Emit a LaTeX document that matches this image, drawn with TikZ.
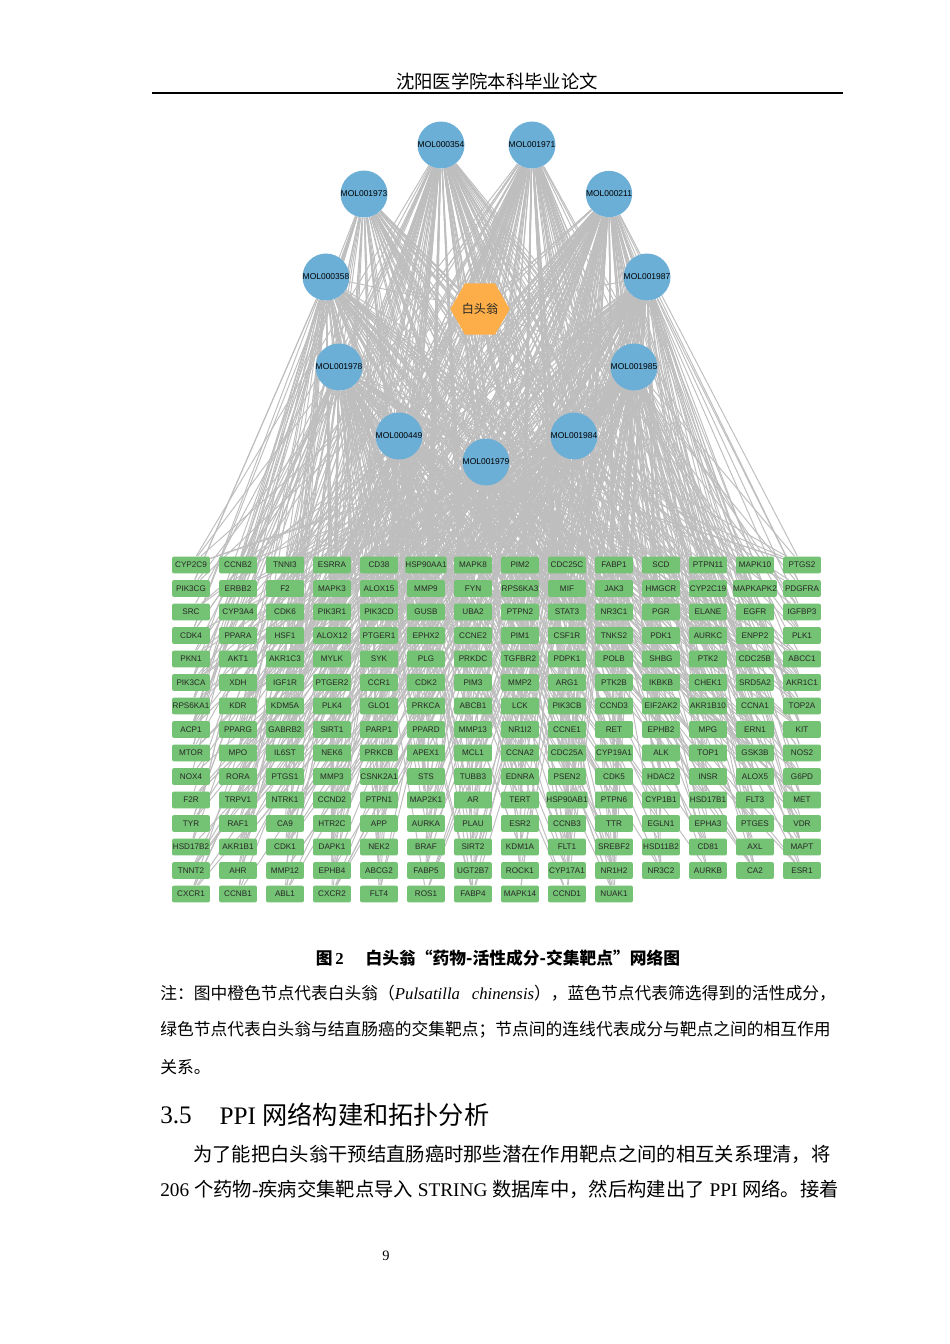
\documentclass[tikz,border=0pt]{standalone}
\usepackage{fontspec}
\setmainfont{Liberation Serif}
\newfontfamily\cjk{Noto Sans CJK SC}
\newfontfamily\netfont{Liberation Sans}
\usepackage{tikz}
\usetikzlibrary{shapes.geometric,positioning,backgrounds}
\definecolor{molblue}{RGB}{107,174,214}
\definecolor{targetgreen}{RGB}{116,194,116}
\definecolor{herborange}{RGB}{253,174,72}
\definecolor{edgegray}{RGB}{190,190,190}
\definecolor{labelgray}{RGB}{40,40,40}
\newcommand{\zh}[1]{{\cjk #1}}
\tikzset{
  mol/.style    ={circle, fill=molblue, minimum size=25pt, inner sep=0pt,
                  font=\netfont\fontsize{5.3}{6}\selectfont, text=black},
  target/.style ={rectangle, rounded corners=1.3pt, fill=targetgreen, minimum width=23.8pt,
                  minimum height=10.6pt, inner sep=0pt, text=labelgray,
                  font=\netfont\fontsize{5.1}{6}\selectfont},
  herb/.style   ={regular polygon, regular polygon sides=6, fill=herborange, minimum size=26.8pt,
                  inner sep=0pt, font=\cjk\fontsize{7.6}{8}\selectfont, text=labelgray},
  netedge/.style={draw=edgegray, line width=0.6pt},
  txt/.style    ={inner sep=0pt, anchor=west, font=\fontsize{10.5}{12}\selectfont},
  body/.style   ={inner sep=0pt, anchor=west, font=\fontsize{12.1}{14}\selectfont},
  sect/.style   ={inner sep=0pt, anchor=west, font=\fontsize{15.8}{18}\selectfont}
}
\begin{document}
\begin{tikzpicture}[x=0.6266pt, y=-0.6266pt]
\useasboundingbox (0,0) rectangle (950,1344);

\node[font=\cjk\fontsize{11.5}{13}\selectfont] (hdr) at (497,81) {沈阳医学院本科毕业论文};
\draw[line width=0.8pt] (152,93) -- (843,93);

\node[herb] (herb) at (480,309) {白头翁};
\foreach \n/\x/\y [count=\m] in {MOL000354/441/145, MOL001971/532/145, MOL001973/364/194,
    MOL000211/609/194, MOL000358/326/277, MOL001987/647/277, MOL001978/339/367,
    MOL001985/634/367, MOL000449/399/436, MOL001984/574/436, MOL001979/486/462}
  \node[mol] (m\m) at (\x,\y) {\n};

\foreach \g [count=\i from 0] in {
    CYP2C9,CCNB2,TNNI3,ESRRA,CD38,HSP90AA1,MAPK8,PIM2,CDC25C,FABP1,SCD,PTPN11,MAPK10,PTGS2,
    PIK3CG,ERBB2,F2,MAPK3,ALOX15,MMP9,FYN,RPS6KA3,MIF,JAK3,HMGCR,CYP2C19,MAPKAPK2,PDGFRA,
    SRC,CYP3A4,CDK6,PIK3R1,PIK3CD,GUSB,UBA2,PTPN2,STAT3,NR3C1,PGR,ELANE,EGFR,IGFBP3,
    CDK4,PPARA,HSF1,ALOX12,PTGER1,EPHX2,CCNE2,PIM1,CSF1R,TNKS2,PDK1,AURKC,ENPP2,PLK1,
    PKN1,AKT1,AKR1C3,MYLK,SYK,PLG,PRKDC,TGFBR2,PDPK1,POLB,SHBG,PTK2,CDC25B,ABCC1,
    PIK3CA,XDH,IGF1R,PTGER2,CCR1,CDK2,PIM3,MMP2,ARG1,PTK2B,IKBKB,CHEK1,SRD5A2,AKR1C1,
    RPS6KA1,KDR,KDM5A,PLK4,GLO1,PRKCA,ABCB1,LCK,PIK3CB,CCND3,EIF2AK2,AKR1B10,CCNA1,TOP2A,
    ACP1,PPARG,GABRB2,SIRT1,PARP1,PPARD,MMP13,NR1I2,CCNE1,RET,EPHB2,MPG,ERN1,KIT,
    MTOR,MPO,IL6ST,NEK6,PRKCB,APEX1,MCL1,CCNA2,CDC25A,CYP19A1,ALK,TOP1,GSK3B,NOS2,
    NOX4,RORA,PTGS1,MMP3,CSNK2A1,STS,TUBB3,EDNRA,PSEN2,CDK5,HDAC2,INSR,ALOX5,G6PD,
    F2R,TRPV1,NTRK1,CCND2,PTPN1,MAP2K1,AR,TERT,HSP90AB1,PTPN6,CYP1B1,HSD17B1,FLT3,MET,
    TYR,RAF1,CA9,HTR2C,APP,AURKA,PLAU,ESR2,CCNB3,TTR,EGLN1,EPHA3,PTGES,VDR,
    HSD17B2,AKR1B1,CDK1,DAPK1,NEK2,BRAF,SIRT2,KDM1A,FLT1,SREBF2,HSD11B2,CD81,AXL,MAPT,
    TNNT2,AHR,MMP12,EPHB4,ABCG2,FABP5,UGT2B7,ROCK1,CYP17A1,NR1H2,NR3C2,AURKB,CA2,ESR1,
    CXCR1,CCNB1,ABL1,CXCR2,FLT4,ROS1,FABP4,MAPK14,CCND1,NUAK1} {
  \pgfmathtruncatemacro\col{mod(\i,14)}
  \pgfmathtruncatemacro\row{div(\i,14)}
  \node[target] (t\i) at (191+47*\col, 565+23.5*\row) {\g};
}

\begin{pgfonlayer}{background}
\fill[white] (0,0) rectangle (950,1344);
\foreach \m in {1,...,11} \draw[netedge] (herb) -- (m\m);
\foreach \k in {0,...,205} {
  \pgfmathtruncatemacro\b{mod(\k*5,11)+1}
  \draw[netedge] (m\b) -- (t\k);
}
\pgfmathsetseed{20}
\foreach \w [count=\m] in {46,38,16,38,30,40,30,40,15,26,20} {
  \foreach \k in {0,...,205} {
    \pgfmathsetmacro\rv{rnd*100}
    \ifdim\rv pt<\w pt \draw[netedge] (m\m) -- (t\k); \fi
  }
}
\end{pgfonlayer}

\node[font=\bfseries\fontsize{10.5}{12}\selectfont] (cap) at (498,958)
  {\zh{图}\,2\hspace{1.3em}\zh{白头翁“药物-活性成分-交集靶点”网络图}};
\node[txt] (note1) at (160,993)
  {\zh{注：图中橙色节点代表白头翁（}\textit{Pulsatilla}\hspace{0.7em}\textit{chinensis}\zh{），蓝色节点代表筛选得到的活性成分，}};
\node[txt] (note2) at (160,1030) {\zh{绿色节点代表白头翁与结直肠癌的交集靶点；节点间的连线代表成分与靶点之间的相互作用}};
\node[txt] (note3) at (160,1067) {\zh{关系。}};

\node[sect] (sec) at (160,1115) {3.5};
\node[sect, right=17pt of sec] (sectitle) {PPI \zh{网络构建和拓扑分析}};

\node[body] (para1) at (193,1154) {\zh{为了能把白头翁干预结直肠癌时那些潜在作用靶点之间的相互关系理清，将}};
\node[body] (para2) at (160,1189) {206 \zh{个药物}-\zh{疾病交集靶点导入} STRING \zh{数据库中，然后构建出了} PPI \zh{网络。接着}};

\node[font=\fontsize{9}{10}\selectfont] (pgno) at (386,1256) {9};
\end{tikzpicture}
\end{document}
